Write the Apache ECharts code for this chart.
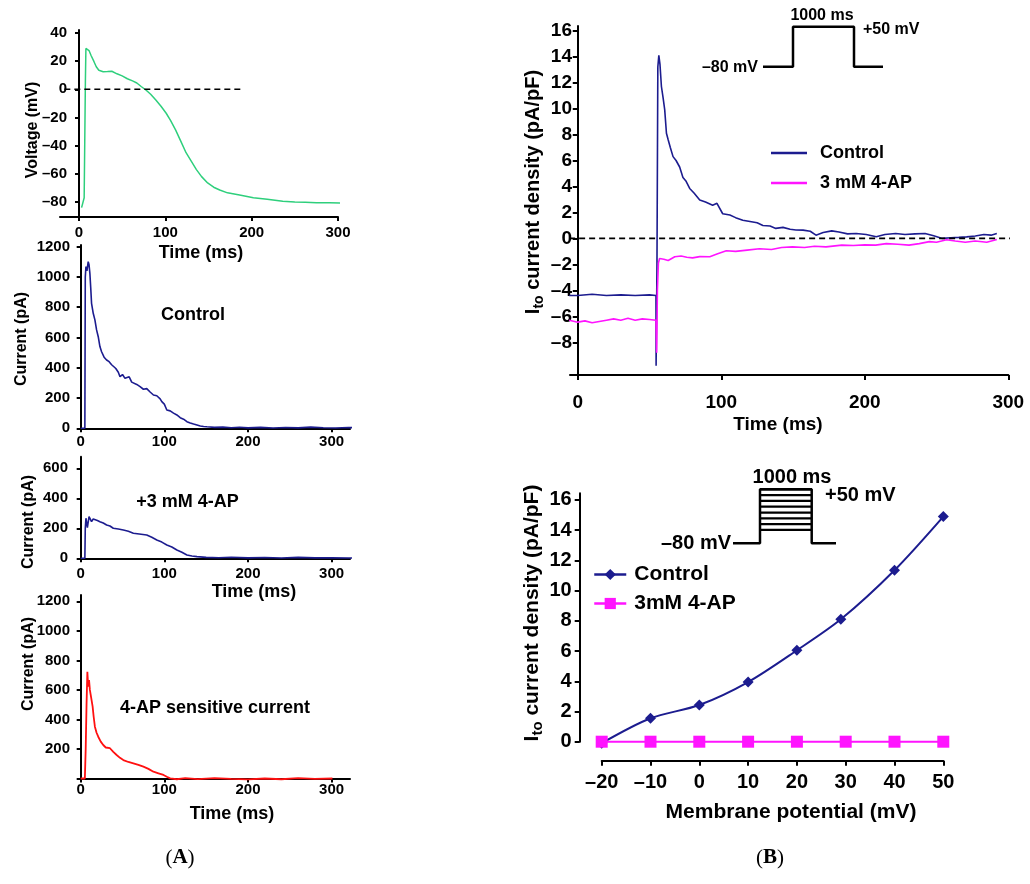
<!DOCTYPE html>
<html>
<head>
<meta charset="utf-8">
<script src="https://cdn.jsdelivr.net/npm/echarts@6/dist/echarts.min.js"></script>
<style>
  html, body { margin: 0; background: #fff; }
  #chart { width: 1030px; height: 884px; }
</style>
</head>
<body>
<div id="chart"></div>
<script>
// Panel A1: action potential (ms, mV)
const apTime = [3, 6, 7.4, 8, 9, 11.6, 14, 17.4, 20, 23, 28, 33, 38, 44, 50, 56, 62, 67, 72, 77.5, 83, 89, 95, 101, 106, 112, 118, 124, 130, 136, 142, 149, 156, 163, 172, 186, 202, 218, 236, 250, 262, 275, 290, 306];
const apVolt = [-84, -77, 5, 29, 28.5, 27.5, 24, 19.6, 16, 13.5, 12.5, 12.6, 12.8, 11, 9.5, 7.5, 6, 4.5, 2, -0.5, -3.5, -7.6, -12, -17, -22, -29, -37, -45, -51, -57, -62, -66.5, -69.5, -71.5, -73.5, -75, -77, -78, -79.5, -80, -80.2, -80.5, -80.6, -80.8];
const apZero = [[-17, 0], [188, 0]];

// Panel A2: control current (ms, pA)
const ctlTime = [0, 5, 5.5, 6.3, 7.5, 9, 10, 11, 12, 13, 15, 17, 19, 21, 23, 25, 28, 31, 34, 37, 39, 42, 45, 47, 50, 53, 55, 58, 61, 63, 67, 71, 75, 79, 83, 87, 91, 95, 97, 100, 103, 107, 111, 115, 119, 123, 127, 131, 135, 139, 143, 147, 151, 160, 170, 180, 190, 200, 215, 230, 245, 260, 275, 290, 305, 320, 335, 346];
const ctlCurr = [0, 0, 1000, 1068, 1040, 1101, 1080, 1024, 930, 826, 760, 716, 650, 605, 540, 506, 470, 451, 440, 420, 407, 395, 370, 341, 355, 330, 319, 340, 305, 297, 290, 275, 258, 262, 240, 220, 215, 195, 176, 160, 121, 115, 100, 88, 70, 60, 44, 35, 28, 22, 15, 12, 10, 6, 8, 4, 7, 3, 6, 2, 5, 3, 8, 4, 2, 5, 3, 6];

// Panel A3: +3 mM 4-AP current (ms, pA)
const apTime3 = [0, 5, 5.5, 6.3, 8, 10, 13, 15, 17, 20, 23, 27, 31, 35, 39, 45, 51, 57, 63, 70, 79, 85, 91, 97, 103, 109, 115, 121, 127, 133, 139, 150, 165, 180, 200, 220, 240, 260, 280, 300, 320, 346];
const apCurr3 = [0, 0, 200, 267, 205, 277, 244, 262, 267, 252, 244, 235, 222, 215, 200, 195, 189, 180, 167, 162, 155, 140, 122, 108, 89, 75, 55, 40, 22, 15, 11, 6, 4, 7, 3, 5, 2, 6, 3, 4, 2, 4];

// Panel A4: 4-AP sensitive current (ms, pA)
const senTime = [0, 5, 6, 7, 8, 9, 10, 11, 12, 13, 14.3, 15.5, 17, 19, 21, 24, 27, 30, 35, 39, 43, 47, 51, 57, 63, 69, 75, 81, 87, 93, 99, 103, 107, 115, 125, 140, 160, 180, 200, 220, 240, 260, 280, 301];
const senCurr = [0, 0, 200, 500, 723, 622, 667, 600, 566, 577, 487, 420, 351, 310, 283, 250, 227, 210, 205, 180, 159, 140, 125, 112, 103, 92, 80, 65, 46, 35, 24, 12, 1, -5, 3, -4, 2, -3, -6, 0, -5, 2, -3, 0];

// Panel B1: Ito current density traces (ms, pA/pF)
const itoTimeCtl = [-6, 0, 10, 20, 30, 40, 50, 54.5, 54.6, 55.2, 55.8, 56.5, 57.3, 58.3, 59.5, 60.6, 61.8, 63, 64.5, 66.4, 68.5, 71, 73.3, 75.5, 78, 81, 85, 89, 94, 97, 101, 106, 110, 115, 120, 125, 129, 134, 138, 143, 148, 152, 157, 162, 166, 171, 177, 182, 188, 194, 201, 208, 214, 221.5, 228, 235, 242, 248, 254, 260, 265.5, 271, 277, 283, 288, 292];
const itoCtl = [-4.4, -4.4, -4.3, -4.4, -4.35, -4.4, -4.35, -4.4, -9.8, -2, 13.2, 14.1, 13.4, 11.7, 10.8, 9.9, 8.1, 7.6, 7.0, 6.3, 6.0, 5.5, 4.7, 4.4, 3.85, 3.5, 2.95, 2.8, 2.56, 2.7, 1.9, 1.8, 1.6, 1.4, 1.3, 1.2, 1.0, 0.95, 0.77, 0.85, 0.7, 0.65, 0.64, 0.55, 0.25, 0.45, 0.58, 0.5, 0.35, 0.38, 0.3, 0.13, 0.3, 0.38, 0.3, 0.35, 0.38, 0.2, 0.0, 0.05, 0.08, 0.12, 0.18, 0.3, 0.25, 0.38];
const itoTimeAP = [-6, 0, 5, 10, 15, 20, 25, 30, 35, 40, 45, 50, 54.5, 55, 55.5, 56.2, 57, 60, 63, 67.6, 72, 76, 80, 85, 92, 97, 103.5, 110, 118, 126.6, 135, 142, 149.6, 158, 165, 173, 184, 192, 200, 207.6, 215, 223, 230.8, 238, 245, 250, 257, 263, 270, 277, 285, 292];
const itoAP = [-6.3, -6.45, -6.35, -6.5, -6.4, -6.3, -6.2, -6.3, -6.15, -6.3, -6.2, -6.25, -6.3, -8.8, -4, -1.9, -1.55, -1.6, -1.7, -1.41, -1.35, -1.45, -1.5, -1.4, -1.41, -1.2, -0.95, -1.0, -0.9, -0.8, -0.85, -0.7, -0.65, -0.7, -0.6, -0.65, -0.52, -0.55, -0.5, -0.52, -0.4, -0.45, -0.52, -0.4, -0.25, -0.3, -0.1, -0.2, -0.3, -0.2, -0.3, -0.08];
const itoZero = [[-6, 0], [310, 0]];

// Panel B2: I-V relation (mV, pA/pF)
const ivPotCtl = [-20, -10, 0, 10, 20, 29, 40, 50];
const ivCtl = [-0.1, 1.55, 2.43, 3.95, 6.05, 8.1, 11.35, 14.9];
const ivPotAP = [-20, -10, 0, 10, 20, 30, 40, 50];
const ivAP = [0, 0, 0, 0, 0, 0, 0, 0];

// voltage protocol sketches (schematic time units, mV)
const stimTime = [0, 30, 30, 91, 91, 120];
const stimVolt = [-80, -80, 50, 50, -80, -80];
const ivStimTime = [0, 27, 27, 78.7, 78.7, 103];
const ivStimVolt = [-80, -80, 50, 50, -80, -80];
const ivStimLevels = [-20, -10, 0, 10, 20, 30, 40, 50];
const ivStepOn = 27;
const ivStepOff = 78.7;

const FONT = '"Liberation Sans", Arial, Helvetica, sans-serif';
const SERIF = '"Liberation Serif", "DejaVu Serif", serif';
const NAVY = '#1c1c8f';
const MAGENTA = '#ff14ff';
const dash = (v) => (v < 0 ? '\u2013' + Math.abs(v) : String(v));
const pairs = (xs, ys) => xs.map((x, i) => [x, ys[i]]);

function axis(gridIndex, min, max, o) {
  return {
    type: 'value',
    gridIndex,
    min,
    max,
    interval: o.interval,
    offset: o.offset || 0,
    splitLine: { show: false },
    axisLine: { show: true, onZero: !!o.onZero, lineStyle: { color: '#000', width: 2 } },
    axisTick: { show: true, length: o.tickLen || 4, lineStyle: { color: '#000', width: 2 }, customValues: o.ticks },
    axisLabel: {
      show: true, margin: o.margin, color: '#000', fontFamily: FONT, fontWeight: 'bold',
      fontSize: o.fontSize, customValues: o.labels || o.ticks, formatter: dash,
    },
  };
}

function hiddenAxis(gridIndex, min, max) {
  return { type: 'value', gridIndex, min, max, show: false, splitLine: { show: false } };
}

function trace(name, xs, ys, color, grid, width, yIndex) {
  return {
    name, type: 'line', xAxisIndex: grid, yAxisIndex: yIndex === undefined ? grid : yIndex,
    data: pairs(xs, ys), symbol: 'none', showSymbol: false, clip: false, silent: true,
    lineStyle: { color, width }, itemStyle: { color }, animation: false,
  };
}

function dashed(grid, data) {
  return {
    type: 'line', xAxisIndex: grid, yAxisIndex: grid, data, symbol: 'none', clip: false, silent: true,
    lineStyle: { color: '#000', width: 1.6, type: [6, 4] }, animation: false,
  };
}

function label(text, x, y, size, align) {
  return {
    type: 'text', x, y, silent: true,
    style: { text, fontFamily: FONT, fontWeight: 'bold', fontSize: size, fill: '#000', align: align || 'center', verticalAlign: 'middle' },
  };
}

function vlabel(text, x, y, size, rich) {
  const el = label(text, x, y, size);
  el.rotation = Math.PI / 2;
  if (rich) el.style.rich = rich;
  return el;
}

function itoRich(size) {
  return {
    a: { fontFamily: FONT, fontWeight: 'bold', fontSize: size, fill: '#000' },
    s: { fontFamily: FONT, fontWeight: 'bold', fontSize: size - 6, fill: '#000', padding: [12, 0, 0, 0] },
  };
}

function panelLetter(letter, x, y) {
  return {
    type: 'text', x, y, silent: true,
    style: {
      text: '{n|(}{b|' + letter + '}{n|)}', align: 'center', verticalAlign: 'middle',
      rich: {
        n: { fontFamily: SERIF, fontSize: 21, fill: '#000' },
        b: { fontFamily: SERIF, fontSize: 21, fontWeight: 'bold', fill: '#000' },
      },
    },
  };
}

const chart = echarts.init(document.getElementById('chart'), null, { renderer: 'canvas' });

const grids = [
  { left: 60, top: 30, width: 278, height: 187 },
  { left: 78, top: 245, width: 272, height: 183.3 },
  { left: 78, top: 456.7, width: 272, height: 101.6 },
  { left: 78, top: 595, width: 272, height: 183.5 },
  { left: 570, top: 26, width: 438.3, height: 349 },
  { left: 601.7, top: 493.3, width: 341.6, height: 248.4 },
  { left: 763, top: 26.7, width: 120, height: 40 },
  { left: 733, top: 489.3, width: 103, height: 54 },
].map((g) => Object.assign({ outerBoundsMode: 'none', containLabel: false }, g));

const timeTicks = [0, 100, 200, 300];

const xAxes = [
  axis(0, -22, 300, { ticks: timeTicks, fontSize: 15, margin: 8 }),
  axis(1, -3.2, 322, { ticks: timeTicks, fontSize: 15, margin: 6 }),
  axis(2, -3.2, 322, { ticks: timeTicks, fontSize: 15, margin: 8 }),
  axis(3, -3.2, 322, { ticks: timeTicks, fontSize: 15, margin: 4 }),
  axis(4, -5.4, 300, { ticks: timeTicks, fontSize: 19, margin: 18, tickLen: 5 }),
  axis(5, -20, 50, { interval: 10, fontSize: 20, margin: 12, tickLen: 5, offset: 19 }),
  hiddenAxis(6, 0, 120),
  hiddenAxis(7, 0, 103),
];

// label margins of on-zero y axes are measured from the grid's left edge
const yAxes = [
  axis(0, -90.65, 42.1, { ticks: [-80, -60, -40, -20, 0, 20, 40], fontSize: 15, margin: -7, onZero: true }),
  axis(1, 0, 1211, { ticks: [0, 200, 400, 600, 800, 1000, 1200], fontSize: 15, margin: 8, onZero: true }),
  axis(2, 0, 677, { ticks: [0, 200, 400, 600], fontSize: 15, margin: 10, onZero: true }),
  axis(3, 0, 1243, { ticks: [0, 200, 400, 600, 800, 1000, 1200], labels: [200, 400, 600, 800, 1000, 1200], fontSize: 15, margin: 8, onZero: true }),
  axis(4, -10.52, 16.36, { ticks: [-8, -6, -4, -2, 0, 2, 4, 6, 8, 10, 12, 14, 16], fontSize: 19, margin: -2, tickLen: 5, onZero: true }),
  axis(5, 0, 16.44, { interval: 2, fontSize: 20, margin: 8, tickLen: 5, offset: 22 }),
  hiddenAxis(6, -80, 50),
  hiddenAxis(7, -80, 50),
  hiddenAxis(7, -43, 50),
];

const series = [
  trace('AP', apTime, apVolt, '#2ecf7c', 0, 1.5),
  dashed(0, apZero),
  trace('Control current', ctlTime, ctlCurr, NAVY, 1, 1.6),
  trace('+3 mM 4-AP current', apTime3, apCurr3, NAVY, 2, 1.6),
  trace('4-AP sensitive', senTime, senCurr, '#ff1010', 3, 1.8),
  trace('Control', itoTimeCtl, itoCtl, NAVY, 4, 1.6),
  trace('3 mM 4-AP', itoTimeAP, itoAP, MAGENTA, 4, 1.6),
  dashed(4, itoZero),
  {
    name: 'Control ', type: 'line', xAxisIndex: 5, yAxisIndex: 5, data: pairs(ivPotCtl, ivCtl),
    smooth: 0.3, symbol: 'diamond', symbolSize: 11, clip: false, silent: true, animation: false,
    lineStyle: { color: NAVY, width: 2 }, itemStyle: { color: NAVY },
  },
  {
    name: '3mM 4-AP', type: 'line', xAxisIndex: 5, yAxisIndex: 5, data: pairs(ivPotAP, ivAP),
    symbol: 'rect', symbolSize: 12, clip: false, silent: true, animation: false,
    lineStyle: { color: MAGENTA, width: 2 }, itemStyle: { color: MAGENTA },
  },
  trace('stim', stimTime, stimVolt, '#000', 6, 2.5),
  trace('iv stim', ivStimTime, ivStimVolt, '#000', 7, 2.5, 7),
  ...ivStimLevels.map((lv) => trace('iv step ' + lv, [ivStepOn, ivStepOff], [lv, lv], '#000', 7, 2.2, 8)),
];

const legendText = (size, gap) => ({ fontFamily: FONT, fontWeight: 'bold', fontSize: size, color: '#000', padding: [0, 0, 0, gap] });

chart.setOption({
  animation: false,
  backgroundColor: '#fff',
  grid: grids,
  xAxis: xAxes,
  yAxis: yAxes,
  legend: [
    {
      data: [{ name: 'Control', icon: 'rect' }, { name: '3 mM 4-AP', icon: 'rect' }],
      orient: 'vertical', left: 771, top: 144, padding: 0,
      itemWidth: 36, itemHeight: 2.5, itemGap: 12, selectedMode: false,
      textStyle: legendText(18, 8),
    },
    {
      data: ['Control ', '3mM 4-AP'], orient: 'vertical', left: 593, top: 564, padding: 0,
      itemWidth: 32, itemHeight: 14, itemGap: 8, selectedMode: false,
      lineStyle: { width: 2.5 }, textStyle: legendText(21, 3),
    },
  ],
  series,
  graphic: [
    // panel A titles and notes
    vlabel('Voltage (mV)', 33, 130, 16),
    label('Time (ms)', 201, 253, 18),
    vlabel('Current (pA)', 22, 339, 16),
    label('Control', 193, 315, 18),
    vlabel('Current (pA)', 28.5, 522, 16),
    label('+3 mM 4-AP', 187.5, 502, 18),
    label('Time (ms)', 254, 592, 18),
    vlabel('Current (pA)', 29, 664, 16),
    label('4-AP sensitive current', 215, 708, 18),
    label('Time (ms)', 232, 814, 18),
    // panel B1
    vlabel('{a|I}{s|to}{a| current density (pA/pF)}', 533, 192, 20, itoRich(20)),
    label('Time (ms)', 778, 425, 19),
    label('\u201380 mV', 758, 68, 16, 'right'),
    label('1000 ms', 822, 16, 16),
    label('+50 mV', 863, 30, 16, 'left'),
    // panel B2
    vlabel('{a|I}{s|to}{a| current density (pA/pF)}', 532, 613, 21, itoRich(21)),
    label('Membrane potential (mV)', 791, 812, 21),
    label('\u201380 mV', 731, 543, 20, 'right'),
    label('1000 ms', 792, 477, 20),
    label('+50 mV', 825, 495, 20, 'left'),
    // panel letters
    panelLetter('A', 180, 858),
    panelLetter('B', 770, 858),
  ],
});
</script>
</body>
</html>
